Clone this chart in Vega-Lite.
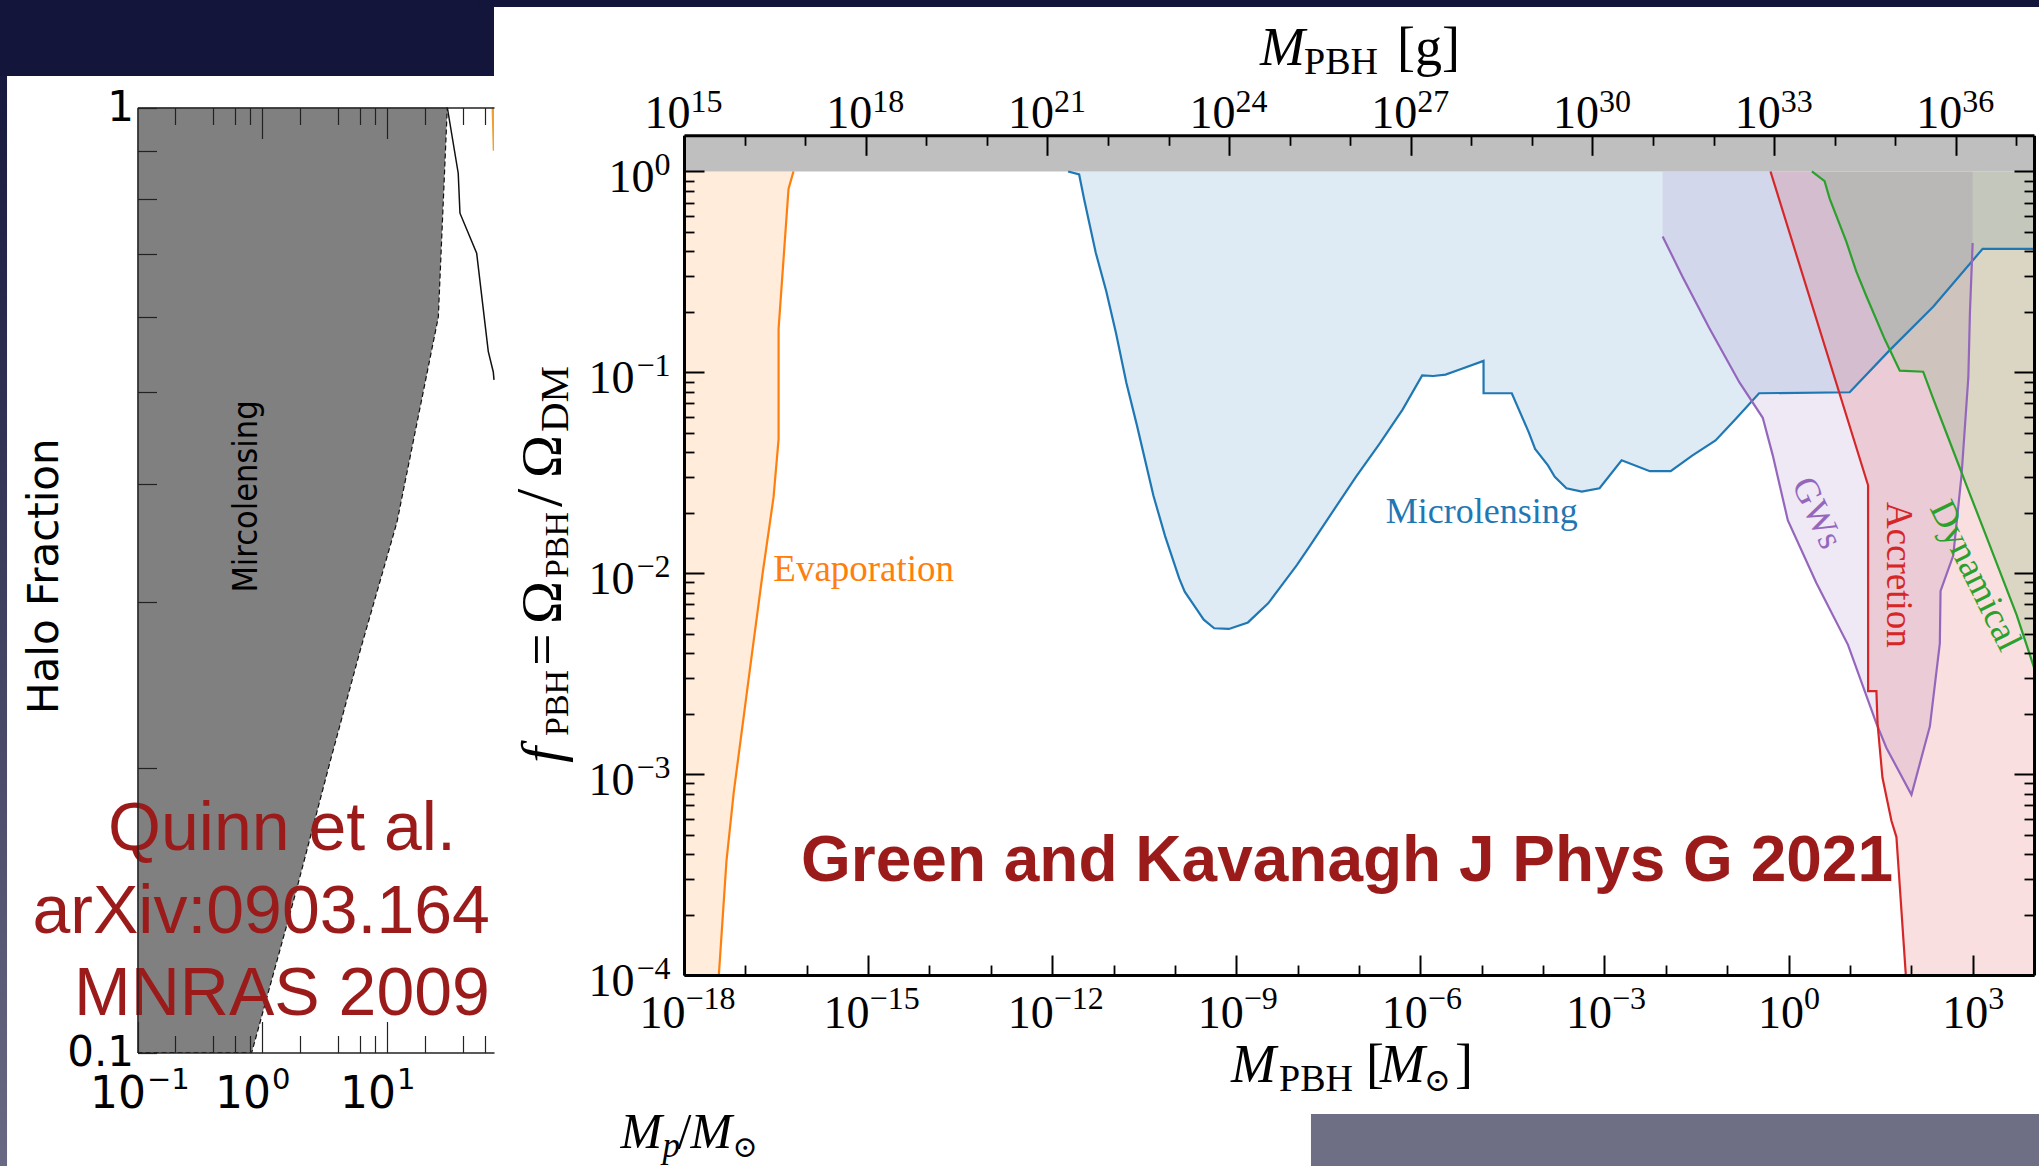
{
"$schema": "https://vega.github.io/schema/vega-lite/v6.json",
"width": 2039, "height": 1166, "autosize": {"type": "none"}, "padding": 0,
"background": "#ffffff",
"config": {"view": {"stroke": null}, "axis": {"grid": false, "labelFlush": false, "labelOverlap": false, "labelBound": false}},
"datasets": {
"evap": [{"M":1e-18,"f":0.0001},{"M":3.7e-18,"f":0.0001},{"M":4.92e-18,"f":0.000369},{"M":6.46e-18,"f":0.000809},{"M":1.205e-17,"f":0.00345},{"M":1.93e-17,"f":0.0102},{"M":2.88e-17,"f":0.0239},{"M":3.48e-17,"f":0.0465},{"M":3.481e-17,"f":0.165},{"M":5.05e-17,"f":0.818},{"M":6.08e-17,"f":1}],
"micro": [{"M":1.82e-12,"f":1},{"M":2.75e-12,"f":0.966},{"M":3.31e-12,"f":0.729},{"M":5.13e-12,"f":0.394},{"M":7.59e-12,"f":0.254},{"M":1.096e-11,"f":0.157},{"M":1.62e-11,"f":0.0885},{"M":2.4e-11,"f":0.0546},{"M":4.47e-11,"f":0.0243},{"M":6.92e-11,"f":0.0153},{"M":1.175e-10,"f":0.00942},{"M":1.445e-10,"f":0.00809},{"M":2.24e-10,"f":0.00664},{"M":2.95e-10,"f":0.00587},{"M":4.37e-10,"f":0.00532},{"M":7.59e-10,"f":0.00528},{"M":1.55e-9,"f":0.00569},{"M":3.31e-9,"f":0.00708},{"M":5.37e-9,"f":0.00863},{"M":9.77e-9,"f":0.011},{"M":1.585e-8,"f":0.0137},{"M":3.09e-8,"f":0.0186},{"M":8.91e-8,"f":0.0302},{"M":2.14e-7,"f":0.0439},{"M":5.13e-7,"f":0.0652},{"M":1.07e-6,"f":0.0966},{"M":1.62e-6,"f":0.0959},{"M":2.57e-6,"f":0.0975},{"M":4.27e-6,"f":0.103},{"M":1.07e-5,"f":0.114},{"M":1.072e-5,"f":0.0787},{"M":3.09e-5,"f":0.0787},{"M":5.89e-5,"f":0.05},{"M":7.41e-5,"f":0.0416},{"M":0.00012,"f":0.0344},{"M":0.000155,"f":0.0302},{"M":0.00024,"f":0.0265},{"M":0.000427,"f":0.0255},{"M":0.000832,"f":0.0265},{"M":0.001905,"f":0.0365},{"M":0.0055,"f":0.0322},{"M":0.012,"f":0.0322},{"M":0.0269,"f":0.0385},{"M":0.0646,"f":0.0458},{"M":0.135,"f":0.0583},{"M":0.331,"f":0.0787},{"M":9.91,"f":0.0796},{"M":44.6,"f":0.129},{"M":227.5,"f":0.212},{"M":1455,"f":0.412},{"M":10000,"f":0.412}],
"gw": [{"M":0.00887,"f":0.475},{"M":0.0188,"f":0.2985},{"M":0.0513,"f":0.1656},{"M":0.1585,"f":0.0891},{"M":0.38,"f":0.0594},{"M":0.5546,"f":0.0385},{"M":0.975,"f":0.0183},{"M":2.83,"f":0.00897},{"M":9.31,"f":0.0044},{"M":27,"f":0.00179},{"M":39.4,"f":0.00135},{"M":100.7,"f":0.000789},{"M":201,"f":0.00173},{"M":292,"f":0.00447},{"M":300,"f":0.00817},{"M":483,"f":0.01225},{"M":661,"f":0.031},{"M":851,"f":0.0946},{"M":904,"f":0.1995},{"M":1000,"f":0.4406}],
"acc": [{"M":0.508,"f":1},{"M":19.77,"f":0.0274},{"M":19.8,"f":0.00259},{"M":27.04,"f":0.00259},{"M":28.2,"f":0.00179},{"M":33.9,"f":0.000962},{"M":47.5,"f":0.000586},{"M":57.3,"f":0.000486},{"M":81.5,"f":0.0001},{"M":10000,"f":0.0001}],
"dyn": [{"M":2.4,"f":1},{"M":3.87,"f":0.895},{"M":4.68,"f":0.733},{"M":8.75,"f":0.447},{"M":12.7,"f":0.318},{"M":18.5,"f":0.24},{"M":37,"f":0.146},{"M":65,"f":0.102},{"M":156.3,"f":0.1007},{"M":227.5,"f":0.074},{"M":425.6,"f":0.045},{"M":794,"f":0.0274},{"M":1493,"f":0.01667},{"M":2793,"f":0.01016},{"M":5224,"f":0.00618},{"M":10000,"f":0.0034}],
"quinnGrey": [{"M":0.1,"f":0.1},{"M":0.82,"f":0.1},{"M":1.88,"f":0.149},{"M":3.47,"f":0.203},{"M":6.03,"f":0.266},{"M":11.9,"f":0.364},{"M":25.5,"f":0.6},{"M":30.1,"f":1}],
"quinnLine": [{"M":30.1,"f":1},{"M":36.8,"f":0.852},{"M":38,"f":0.773},{"M":51.7,"f":0.701},{"M":64,"f":0.552},{"M":70.2,"f":0.525},{"M":71.13,"f":0.515}],
"quinnOrange": [{"M":68,"f":1},{"M":69.5,"f":0.9},{"M":71.13,"f":0.9}]
},
"layer": [
{"data":{"values":[{}]},"mark":{"type":"rect","color":"#14153a"},"encoding":{"x":{"datum":0.001,"type":"quantitative","scale":{"type":"log","domain":[0.1,71.13],"range":[137.5,494],"nice":false},"axis":null},"x2":{"datum":71.13},"y":{"datum":1.0798,"type":"quantitative","scale":{"type":"log","domain":[0.1,1],"range":[1052.5,107.5],"nice":false},"axis":null},"y2":{"datum":3}}},
{"data":{"values":[{}]},"mark":{"type":"rect","color":"#14153a"},"encoding":{"x":{"datum":4.73e-22,"type":"quantitative","scale":{"type":"log","domain":[1e-18,10000],"range":[684,2034],"nice":false},"axis":null},"x2":{"datum":100000},"y":{"datum":6.59,"type":"quantitative","scale":{"type":"log","domain":[0.0001,1.5136],"range":[975,135.3],"nice":false},"axis":null},"y2":{"datum":100}}},
{"data":{"values":[{}]},"mark":{"type":"rect","color":{"gradient":"linear","x1":0,"y1":0,"x2":0,"y2":1,"stops":[{"offset":0,"color":"#17183d"},{"offset":1,"color":"#76768e"}]}},"encoding":{"x":{"datum":0.001,"type":"quantitative","scale":{"type":"log","domain":[0.1,71.13],"range":[137.5,494],"nice":false},"axis":null},"x2":{"datum":0.00904},"y":{"datum":0.05,"type":"quantitative","scale":{"type":"log","domain":[0.1,1],"range":[1052.5,107.5],"nice":false},"axis":null},"y2":{"datum":1.0798}}},
{"data":{"values":[{}]},"mark":{"type":"rect","color":"#6e6e85"},"encoding":{"x":{"datum":1.65e-8,"type":"quantitative","scale":{"type":"log","domain":[1e-18,10000],"range":[684,2034],"nice":false},"axis":null},"x2":{"datum":100000},"y":{"datum":0.000001,"type":"quantitative","scale":{"type":"log","domain":[0.0001,1.5136],"range":[975,135.3],"nice":false},"axis":null},"y2":{"datum":0.0000203}}},
{"data":{"name":"quinnGrey"},"mark":{"type":"area","color":"#808080","opacity":1},"encoding":{"x":{"field":"M","type":"quantitative","scale":{"type":"log","domain":[0.1,71.13],"range":[137.5,494],"nice":false},"axis":null},"y":{"field":"f","type":"quantitative","scale":{"type":"log","domain":[0.1,1],"range":[1052.5,107.5],"nice":false},"axis":null},"y2":{"datum":1}}},
{"data":{"name":"quinnGrey"},"mark":{"type":"line","color":"#111111","strokeWidth":1.2,"strokeDash":[5,3]},"encoding":{"x":{"field":"M","type":"quantitative","scale":{"type":"log","domain":[0.1,71.13],"range":[137.5,494],"nice":false},"axis":null},"y":{"field":"f","type":"quantitative","scale":{"type":"log","domain":[0.1,1],"range":[1052.5,107.5],"nice":false},"axis":null}}},
{"data":{"name":"quinnLine"},"mark":{"type":"line","color":"#111111","strokeWidth":1.5},"encoding":{"x":{"field":"M","type":"quantitative","scale":{"type":"log","domain":[0.1,71.13],"range":[137.5,494],"nice":false},"axis":null},"y":{"field":"f","type":"quantitative","scale":{"type":"log","domain":[0.1,1],"range":[1052.5,107.5],"nice":false},"axis":null}}},
{"data":{"name":"quinnOrange"},"mark":{"type":"area","color":"#f0a030","opacity":1},"encoding":{"x":{"field":"M","type":"quantitative","scale":{"type":"log","domain":[0.1,71.13],"range":[137.5,494],"nice":false},"axis":null},"y":{"field":"f","type":"quantitative","scale":{"type":"log","domain":[0.1,1],"range":[1052.5,107.5],"nice":false},"axis":null},"y2":{"datum":1}}},
{"data":{"values":[{}]},"mark":{"type":"text","text":"Halo Fraction","font":"DejaVu Sans","fontSize":42,"color":"#000000","angle":270,"align":"center","baseline":"middle"},"encoding":{"x":{"datum":0.01836,"type":"quantitative","scale":{"type":"log","domain":[0.1,71.13],"range":[137.5,494],"nice":false},"axis":null},"y":{"datum":0.3192,"type":"quantitative","scale":{"type":"log","domain":[0.1,1],"range":[1052.5,107.5],"nice":false},"axis":null}}},
{"data":{"values":[{}]},"mark":{"type":"text","text":"Mircolensing","font":"DejaVu Sans Condensed, DejaVu Sans","fontSize":34,"color":"#000000","angle":270,"align":"center","baseline":"middle"},"encoding":{"x":{"datum":0.748,"type":"quantitative","scale":{"type":"log","domain":[0.1,71.13],"range":[137.5,494],"nice":false},"axis":null},"y":{"datum":0.3876,"type":"quantitative","scale":{"type":"log","domain":[0.1,1],"range":[1052.5,107.5],"nice":false},"axis":null}}},
{"data":{"values":[{}]},"mark":{"type":"text","text":"Quinn et al.","font":"Liberation Sans","fontSize":68,"color":"#9b1b1b","align":"center","baseline":"alphabetic"},"encoding":{"x":{"datum":1.432,"type":"quantitative","scale":{"type":"log","domain":[0.1,71.13],"range":[137.5,494],"nice":false},"axis":null},"y":{"datum":0.1637,"type":"quantitative","scale":{"type":"log","domain":[0.1,1],"range":[1052.5,107.5],"nice":false},"axis":null}}},
{"data":{"values":[{}]},"mark":{"type":"text","text":"arXiv:0903.164","font":"Liberation Sans","fontSize":68,"color":"#9b1b1b","align":"left","baseline":"alphabetic"},"encoding":{"x":{"datum":0.01445,"type":"quantitative","scale":{"type":"log","domain":[0.1,71.13],"range":[137.5,494],"nice":false},"axis":null},"y":{"datum":0.1338,"type":"quantitative","scale":{"type":"log","domain":[0.1,1],"range":[1052.5,107.5],"nice":false},"axis":null}}},
{"data":{"values":[{}]},"mark":{"type":"text","text":"MNRAS 2009","font":"Liberation Sans","fontSize":68,"color":"#9b1b1b","align":"center","baseline":"alphabetic"},"encoding":{"x":{"datum":1.432,"type":"quantitative","scale":{"type":"log","domain":[0.1,71.13],"range":[137.5,494],"nice":false},"axis":null},"y":{"datum":0.1096,"type":"quantitative","scale":{"type":"log","domain":[0.1,1],"range":[1052.5,107.5],"nice":false},"axis":null}}},
{"data":{"values":[{}]},"mark":{"type":"text","text":"M","font":"Liberation Serif","fontStyle":"italic","fontSize":50,"color":"#000000","align":"left","baseline":"alphabetic"},"encoding":{"x":{"datum":732.8,"type":"quantitative","scale":{"type":"log","domain":[0.1,71.13],"range":[137.5,494],"nice":false},"axis":null},"y":{"datum":0.0792,"type":"quantitative","scale":{"type":"log","domain":[0.1,1],"range":[1052.5,107.5],"nice":false},"axis":null}}},
{"data":{"values":[{}]},"mark":{"type":"text","text":"p","font":"Liberation Serif","fontStyle":"italic","fontSize":35,"color":"#000000","align":"left","baseline":"alphabetic","dx":42,"dy":9},"encoding":{"x":{"datum":732.8,"type":"quantitative","scale":{"type":"log","domain":[0.1,71.13],"range":[137.5,494],"nice":false},"axis":null},"y":{"datum":0.0792,"type":"quantitative","scale":{"type":"log","domain":[0.1,1],"range":[1052.5,107.5],"nice":false},"axis":null}}},
{"data":{"values":[{}]},"mark":{"type":"text","text":"/","font":"Liberation Serif","fontSize":50,"color":"#000000","align":"left","baseline":"alphabetic","dx":57},"encoding":{"x":{"datum":732.8,"type":"quantitative","scale":{"type":"log","domain":[0.1,71.13],"range":[137.5,494],"nice":false},"axis":null},"y":{"datum":0.0792,"type":"quantitative","scale":{"type":"log","domain":[0.1,1],"range":[1052.5,107.5],"nice":false},"axis":null}}},
{"data":{"values":[{}]},"mark":{"type":"text","text":"M","font":"Liberation Serif","fontStyle":"italic","fontSize":50,"color":"#000000","align":"left","baseline":"alphabetic","dx":70},"encoding":{"x":{"datum":732.8,"type":"quantitative","scale":{"type":"log","domain":[0.1,71.13],"range":[137.5,494],"nice":false},"axis":null},"y":{"datum":0.0792,"type":"quantitative","scale":{"type":"log","domain":[0.1,1],"range":[1052.5,107.5],"nice":false},"axis":null}}},
{"data":{"values":[{}]},"mark":{"type":"text","text":"⊙","font":"DejaVu Serif","fontSize":30,"color":"#000000","align":"left","baseline":"alphabetic","dx":112,"dy":9},"encoding":{"x":{"datum":732.8,"type":"quantitative","scale":{"type":"log","domain":[0.1,71.13],"range":[137.5,494],"nice":false},"axis":null},"y":{"datum":0.0792,"type":"quantitative","scale":{"type":"log","domain":[0.1,1],"range":[1052.5,107.5],"nice":false},"axis":null}}},
{"data":{"name":"evap"},"mark":{"type":"area","color":"#ff7f0e","opacity":0.15},"encoding":{"x":{"field":"M","type":"quantitative","scale":{"type":"log","domain":[1e-18,10000],"range":[684,2034],"nice":false},"axis":null},"y":{"field":"f","type":"quantitative","scale":{"type":"log","domain":[0.0001,1.5136],"range":[975,135.3],"nice":false},"axis":null},"y2":{"datum":1}}},
{"data":{"name":"micro"},"mark":{"type":"area","color":"#1f77b4","opacity":0.15},"encoding":{"x":{"field":"M","type":"quantitative","scale":{"type":"log","domain":[1e-18,10000],"range":[684,2034],"nice":false},"axis":null},"y":{"field":"f","type":"quantitative","scale":{"type":"log","domain":[0.0001,1.5136],"range":[975,135.3],"nice":false},"axis":null},"y2":{"datum":1}}},
{"data":{"name":"gw"},"mark":{"type":"area","color":"#9467bd","opacity":0.15},"encoding":{"x":{"field":"M","type":"quantitative","scale":{"type":"log","domain":[1e-18,10000],"range":[684,2034],"nice":false},"axis":null},"y":{"field":"f","type":"quantitative","scale":{"type":"log","domain":[0.0001,1.5136],"range":[975,135.3],"nice":false},"axis":null},"y2":{"datum":1}}},
{"data":{"name":"acc"},"mark":{"type":"area","color":"#d62728","opacity":0.15},"encoding":{"x":{"field":"M","type":"quantitative","scale":{"type":"log","domain":[1e-18,10000],"range":[684,2034],"nice":false},"axis":null},"y":{"field":"f","type":"quantitative","scale":{"type":"log","domain":[0.0001,1.5136],"range":[975,135.3],"nice":false},"axis":null},"y2":{"datum":1}}},
{"data":{"name":"dyn"},"mark":{"type":"area","color":"#2ca02c","opacity":0.15},"encoding":{"x":{"field":"M","type":"quantitative","scale":{"type":"log","domain":[1e-18,10000],"range":[684,2034],"nice":false},"axis":null},"y":{"field":"f","type":"quantitative","scale":{"type":"log","domain":[0.0001,1.5136],"range":[975,135.3],"nice":false},"axis":null},"y2":{"datum":1}}},
{"data":{"values":[{}]},"mark":{"type":"rect","color":"#bfbfbf"},"encoding":{"x":{"datum":1e-18,"type":"quantitative","scale":{"type":"log","domain":[1e-18,10000],"range":[684,2034],"nice":false},"axis":null},"x2":{"datum":10000},"y":{"datum":1,"type":"quantitative","scale":{"type":"log","domain":[0.0001,1.5136],"range":[975,135.3],"nice":false},"axis":null},"y2":{"datum":1.5136}}},
{"data":{"name":"evap"},"mark":{"type":"line","color":"#ff7f0e","strokeWidth":2.2},"encoding":{"x":{"field":"M","type":"quantitative","scale":{"type":"log","domain":[1e-18,10000],"range":[684,2034],"nice":false},"axis":null},"y":{"field":"f","type":"quantitative","scale":{"type":"log","domain":[0.0001,1.5136],"range":[975,135.3],"nice":false},"axis":null}}},
{"data":{"name":"micro"},"mark":{"type":"line","color":"#1f77b4","strokeWidth":2.2},"encoding":{"x":{"field":"M","type":"quantitative","scale":{"type":"log","domain":[1e-18,10000],"range":[684,2034],"nice":false},"axis":null},"y":{"field":"f","type":"quantitative","scale":{"type":"log","domain":[0.0001,1.5136],"range":[975,135.3],"nice":false},"axis":null}}},
{"data":{"name":"gw"},"mark":{"type":"line","color":"#9467bd","strokeWidth":2.2},"encoding":{"x":{"field":"M","type":"quantitative","scale":{"type":"log","domain":[1e-18,10000],"range":[684,2034],"nice":false},"axis":null},"y":{"field":"f","type":"quantitative","scale":{"type":"log","domain":[0.0001,1.5136],"range":[975,135.3],"nice":false},"axis":null}}},
{"data":{"name":"acc"},"mark":{"type":"line","color":"#d62728","strokeWidth":2.2},"encoding":{"x":{"field":"M","type":"quantitative","scale":{"type":"log","domain":[1e-18,10000],"range":[684,2034],"nice":false},"axis":null},"y":{"field":"f","type":"quantitative","scale":{"type":"log","domain":[0.0001,1.5136],"range":[975,135.3],"nice":false},"axis":null}}},
{"data":{"name":"dyn"},"mark":{"type":"line","color":"#2ca02c","strokeWidth":2.2},"encoding":{"x":{"field":"M","type":"quantitative","scale":{"type":"log","domain":[1e-18,10000],"range":[684,2034],"nice":false},"axis":null},"y":{"field":"f","type":"quantitative","scale":{"type":"log","domain":[0.0001,1.5136],"range":[975,135.3],"nice":false},"axis":null}}},
{"data":{"values":[{}]},"mark":{"type":"text","text":"Evaporation","font":"Liberation Serif","fontSize":37,"color":"#ff7f0e","align":"left","baseline":"alphabetic"},"encoding":{"x":{"datum":2.85e-17,"type":"quantitative","scale":{"type":"log","domain":[1e-18,10000],"range":[684,2034],"nice":false},"axis":null},"y":{"datum":0.00912,"type":"quantitative","scale":{"type":"log","domain":[0.0001,1.5136],"range":[975,135.3],"nice":false},"axis":null}}},
{"data":{"values":[{}]},"mark":{"type":"text","text":"Microlensing","font":"Liberation Serif","fontSize":36,"color":"#1f77b4","align":"center","baseline":"alphabetic"},"encoding":{"x":{"datum":0.00001,"type":"quantitative","scale":{"type":"log","domain":[1e-18,10000],"range":[684,2034],"nice":false},"axis":null},"y":{"datum":0.01778,"type":"quantitative","scale":{"type":"log","domain":[0.0001,1.5136],"range":[975,135.3],"nice":false},"axis":null}}},
{"data":{"values":[{}]},"mark":{"type":"text","text":"GWs","font":"Liberation Serif","fontSize":36,"color":"#9467bd","align":"center","baseline":"middle","angle":65},"encoding":{"x":{"datum":2.92,"type":"quantitative","scale":{"type":"log","domain":[1e-18,10000],"range":[684,2034],"nice":false},"axis":null},"y":{"datum":0.01995,"type":"quantitative","scale":{"type":"log","domain":[0.0001,1.5136],"range":[975,135.3],"nice":false},"axis":null}}},
{"data":{"values":[{}]},"mark":{"type":"text","text":"Accretion","font":"Liberation Serif","fontSize":37,"color":"#d62728","align":"center","baseline":"middle","angle":90},"encoding":{"x":{"datum":59.8,"type":"quantitative","scale":{"type":"log","domain":[1e-18,10000],"range":[684,2034],"nice":false},"axis":null},"y":{"datum":0.00982,"type":"quantitative","scale":{"type":"log","domain":[0.0001,1.5136],"range":[975,135.3],"nice":false},"axis":null}}},
{"data":{"values":[{}]},"mark":{"type":"text","text":"Dynamical","font":"Liberation Serif","fontSize":37,"color":"#2ca02c","align":"center","baseline":"middle","angle":63.7},"encoding":{"x":{"datum":1096,"type":"quantitative","scale":{"type":"log","domain":[1e-18,10000],"range":[684,2034],"nice":false},"axis":null},"y":{"datum":0.0097,"type":"quantitative","scale":{"type":"log","domain":[0.0001,1.5136],"range":[975,135.3],"nice":false},"axis":null}}},
{"data":{"values":[{}]},"mark":{"type":"text","text":"Green and Kavanagh J Phys G 2021","font":"Liberation Sans","fontWeight":"bold","fontSize":64,"color":"#9b1b1b","align":"center","baseline":"alphabetic"},"encoding":{"x":{"datum":6.38e-8,"type":"quantitative","scale":{"type":"log","domain":[1e-18,10000],"range":[684,2034],"nice":false},"axis":null},"y":{"datum":0.0002954,"type":"quantitative","scale":{"type":"log","domain":[0.0001,1.5136],"range":[975,135.3],"nice":false},"axis":null}}},
{"data":{"values":[{}]},"mark":{"type":"text","text":"M","font":"Liberation Serif","fontStyle":"italic","fontSize":54,"color":"#000000","align":"left","baseline":"alphabetic"},"encoding":{"x":{"datum":2.44e-9,"type":"quantitative","scale":{"type":"log","domain":[1e-18,10000],"range":[684,2034],"nice":false},"axis":null},"y":{"datum":3.39,"type":"quantitative","scale":{"type":"log","domain":[0.0001,1.5136],"range":[975,135.3],"nice":false},"axis":null}}},
{"data":{"values":[{}]},"mark":{"type":"text","text":"PBH","font":"Liberation Serif","fontSize":38,"color":"#000000","align":"left","baseline":"alphabetic","dx":44,"dy":9},"encoding":{"x":{"datum":2.44e-9,"type":"quantitative","scale":{"type":"log","domain":[1e-18,10000],"range":[684,2034],"nice":false},"axis":null},"y":{"datum":3.39,"type":"quantitative","scale":{"type":"log","domain":[0.0001,1.5136],"range":[975,135.3],"nice":false},"axis":null}}},
{"data":{"values":[{}]},"mark":{"type":"text","text":"[g]","font":"Liberation Serif","fontSize":54,"color":"#000000","align":"left","baseline":"alphabetic","dx":137},"encoding":{"x":{"datum":2.44e-9,"type":"quantitative","scale":{"type":"log","domain":[1e-18,10000],"range":[684,2034],"nice":false},"axis":null},"y":{"datum":3.39,"type":"quantitative","scale":{"type":"log","domain":[0.0001,1.5136],"range":[975,135.3],"nice":false},"axis":null}}},
{"data":{"values":[{}]},"mark":{"type":"text","text":"M","font":"Liberation Serif","fontStyle":"italic","fontSize":54,"color":"#000000","align":"left","baseline":"alphabetic"},"encoding":{"x":{"datum":8.22e-10,"type":"quantitative","scale":{"type":"log","domain":[1e-18,10000],"range":[684,2034],"nice":false},"axis":null},"y":{"datum":0.00002933,"type":"quantitative","scale":{"type":"log","domain":[0.0001,1.5136],"range":[975,135.3],"nice":false},"axis":null}}},
{"data":{"values":[{}]},"mark":{"type":"text","text":"PBH","font":"Liberation Serif","fontSize":38,"color":"#000000","align":"left","baseline":"alphabetic","dx":48,"dy":9},"encoding":{"x":{"datum":8.22e-10,"type":"quantitative","scale":{"type":"log","domain":[1e-18,10000],"range":[684,2034],"nice":false},"axis":null},"y":{"datum":0.00002933,"type":"quantitative","scale":{"type":"log","domain":[0.0001,1.5136],"range":[975,135.3],"nice":false},"axis":null}}},
{"data":{"values":[{}]},"mark":{"type":"text","text":"[","font":"Liberation Serif","fontSize":54,"color":"#000000","align":"left","baseline":"alphabetic","dx":135},"encoding":{"x":{"datum":8.22e-10,"type":"quantitative","scale":{"type":"log","domain":[1e-18,10000],"range":[684,2034],"nice":false},"axis":null},"y":{"datum":0.00002933,"type":"quantitative","scale":{"type":"log","domain":[0.0001,1.5136],"range":[975,135.3],"nice":false},"axis":null}}},
{"data":{"values":[{}]},"mark":{"type":"text","text":"M","font":"Liberation Serif","fontStyle":"italic","fontSize":54,"color":"#000000","align":"left","baseline":"alphabetic","dx":149},"encoding":{"x":{"datum":8.22e-10,"type":"quantitative","scale":{"type":"log","domain":[1e-18,10000],"range":[684,2034],"nice":false},"axis":null},"y":{"datum":0.00002933,"type":"quantitative","scale":{"type":"log","domain":[0.0001,1.5136],"range":[975,135.3],"nice":false},"axis":null}}},
{"data":{"values":[{}]},"mark":{"type":"text","text":"⊙","font":"DejaVu Serif","fontSize":32,"color":"#000000","align":"left","baseline":"alphabetic","dx":193,"dy":9},"encoding":{"x":{"datum":8.22e-10,"type":"quantitative","scale":{"type":"log","domain":[1e-18,10000],"range":[684,2034],"nice":false},"axis":null},"y":{"datum":0.00002933,"type":"quantitative","scale":{"type":"log","domain":[0.0001,1.5136],"range":[975,135.3],"nice":false},"axis":null}}},
{"data":{"values":[{}]},"mark":{"type":"text","text":"]","font":"Liberation Serif","fontSize":54,"color":"#000000","align":"left","baseline":"alphabetic","dx":224},"encoding":{"x":{"datum":8.22e-10,"type":"quantitative","scale":{"type":"log","domain":[1e-18,10000],"range":[684,2034],"nice":false},"axis":null},"y":{"datum":0.00002933,"type":"quantitative","scale":{"type":"log","domain":[0.0001,1.5136],"range":[975,135.3],"nice":false},"axis":null}}},
{"data":{"values":[{}]},"mark":{"type":"text","text":"f","font":"Liberation Serif","fontStyle":"italic","fontSize":58,"color":"#000000","align":"left","baseline":"alphabetic","angle":270},"encoding":{"x":{"datum":9.9e-21,"type":"quantitative","scale":{"type":"log","domain":[1e-18,10000],"range":[684,2034],"nice":false},"axis":null},"y":{"datum":0.001136,"type":"quantitative","scale":{"type":"log","domain":[0.0001,1.5136],"range":[975,135.3],"nice":false},"axis":null}}},
{"data":{"values":[{}]},"mark":{"type":"text","text":"PBH","font":"Liberation Serif","fontSize":34,"color":"#000000","align":"left","baseline":"alphabetic","angle":270,"dx":27,"dy":7},"encoding":{"x":{"datum":9.9e-21,"type":"quantitative","scale":{"type":"log","domain":[1e-18,10000],"range":[684,2034],"nice":false},"axis":null},"y":{"datum":0.001136,"type":"quantitative","scale":{"type":"log","domain":[0.0001,1.5136],"range":[975,135.3],"nice":false},"axis":null}}},
{"data":{"values":[{}]},"mark":{"type":"text","text":"=","font":"Liberation Serif","fontSize":58,"color":"#000000","align":"left","baseline":"alphabetic","angle":270,"dx":97},"encoding":{"x":{"datum":9.9e-21,"type":"quantitative","scale":{"type":"log","domain":[1e-18,10000],"range":[684,2034],"nice":false},"axis":null},"y":{"datum":0.001136,"type":"quantitative","scale":{"type":"log","domain":[0.0001,1.5136],"range":[975,135.3],"nice":false},"axis":null}}},
{"data":{"values":[{}]},"mark":{"type":"text","text":"Ω","font":"Liberation Serif","fontSize":58,"color":"#000000","align":"left","baseline":"alphabetic","angle":270,"dx":139},"encoding":{"x":{"datum":9.9e-21,"type":"quantitative","scale":{"type":"log","domain":[1e-18,10000],"range":[684,2034],"nice":false},"axis":null},"y":{"datum":0.001136,"type":"quantitative","scale":{"type":"log","domain":[0.0001,1.5136],"range":[975,135.3],"nice":false},"axis":null}}},
{"data":{"values":[{}]},"mark":{"type":"text","text":"PBH","font":"Liberation Serif","fontSize":34,"color":"#000000","align":"left","baseline":"alphabetic","angle":270,"dx":185,"dy":7},"encoding":{"x":{"datum":9.9e-21,"type":"quantitative","scale":{"type":"log","domain":[1e-18,10000],"range":[684,2034],"nice":false},"axis":null},"y":{"datum":0.001136,"type":"quantitative","scale":{"type":"log","domain":[0.0001,1.5136],"range":[975,135.3],"nice":false},"axis":null}}},
{"data":{"values":[{}]},"mark":{"type":"text","text":"/","font":"Liberation Serif","fontSize":66,"color":"#000000","align":"left","baseline":"alphabetic","angle":270,"dx":256},"encoding":{"x":{"datum":9.9e-21,"type":"quantitative","scale":{"type":"log","domain":[1e-18,10000],"range":[684,2034],"nice":false},"axis":null},"y":{"datum":0.001136,"type":"quantitative","scale":{"type":"log","domain":[0.0001,1.5136],"range":[975,135.3],"nice":false},"axis":null}}},
{"data":{"values":[{}]},"mark":{"type":"text","text":"Ω","font":"Liberation Serif","fontSize":58,"color":"#000000","align":"left","baseline":"alphabetic","angle":270,"dx":285},"encoding":{"x":{"datum":9.9e-21,"type":"quantitative","scale":{"type":"log","domain":[1e-18,10000],"range":[684,2034],"nice":false},"axis":null},"y":{"datum":0.001136,"type":"quantitative","scale":{"type":"log","domain":[0.0001,1.5136],"range":[975,135.3],"nice":false},"axis":null}}},
{"data":{"values":[{}]},"mark":{"type":"text","text":"DM","font":"Liberation Serif","fontSize":41,"color":"#000000","align":"left","baseline":"alphabetic","angle":270,"dx":331,"dy":7},"encoding":{"x":{"datum":9.9e-21,"type":"quantitative","scale":{"type":"log","domain":[1e-18,10000],"range":[684,2034],"nice":false},"axis":null},"y":{"datum":0.001136,"type":"quantitative","scale":{"type":"log","domain":[0.0001,1.5136],"range":[975,135.3],"nice":false},"axis":null}}},
{"data":{"values":[{}]},"mark":{"type":"point","opacity":0},"encoding":{"x":{"datum":0.00001,"type":"quantitative","scale":{"type":"log","domain":[1e-18,10000],"range":[684,2034],"nice":false},"axis":{"orient":"bottom","offset":-191,"values":[1e-18,1e-15,1e-12,1e-9,1e-6,0.001,1,1000],"tickSize":-20,"tickWidth":2,"tickColor":"#000000","domainColor":"#000000","domainWidth":3,"labels":false,"title":null,"zindex":1}},"y":{"datum":0.01,"type":"quantitative","scale":{"type":"log","domain":[0.0001,1.5136],"range":[975,135.3],"nice":false},"axis":{"orient":"left","offset":-684,"values":[0.0001,0.001,0.01,0.1,1],"tickSize":-20,"tickWidth":2,"tickColor":"#000000","domainColor":"#000000","domainWidth":3,"labels":false,"title":null,"zindex":1}}}},
{"data":{"values":[{}]},"mark":{"type":"point","opacity":0},"encoding":{"x":{"datum":0.00001,"type":"quantitative","scale":{"type":"log","domain":[1e-18,10000],"range":[684,2034],"nice":false},"axis":{"orient":"bottom","offset":-191,"values":[1e-17,1e-16,1e-14,1e-13,1e-11,1e-10,1e-8,1e-7,1e-5,0.0001,0.01,0.1,10,100],"tickSize":-10,"tickWidth":1.8,"tickColor":"#000000","domain":false,"labels":false,"title":null,"zindex":1}},"y":{"datum":0.01,"type":"quantitative","scale":{"type":"log","domain":[0.0001,1.5136],"range":[975,135.3],"nice":false},"axis":{"orient":"left","offset":-684,"values":[0.0002,0.0003,0.0004,0.0005,0.0006,0.0007,0.0008,0.0009,0.002,0.003,0.004,0.005,0.006,0.007,0.008,0.009,0.02,0.03,0.04,0.05,0.06,0.07,0.08,0.09,0.2,0.3,0.4,0.5,0.6,0.7,0.8,0.9],"tickSize":-10,"tickWidth":1.8,"tickColor":"#000000","domain":false,"labels":false,"title":null,"zindex":1}}}},
{"data":{"values":[{}]},"mark":{"type":"point","opacity":0},"encoding":{"x":{"datum":1e25,"type":"quantitative","scale":{"type":"log","domain":[1e15,1.95e37],"range":[684,2034],"nice":false},"axis":{"orient":"top","offset":-135.3,"values":[1e15,1e18,1e21,1e24,1e27,1e30,1e33,1e36],"tickSize":-20,"tickWidth":2,"tickColor":"#000000","domainColor":"#000000","domainWidth":3,"labels":false,"title":null,"zindex":1}},"y":{"datum":0.01,"type":"quantitative","scale":{"type":"log","domain":[0.0001,1.5136],"range":[975,135.3],"nice":false},"axis":{"orient":"right","offset":-5,"values":[0.0001,0.001,0.01,0.1,1],"tickSize":-20,"tickWidth":2,"tickColor":"#000000","domainColor":"#000000","domainWidth":3,"labels":false,"title":null,"zindex":1}}}},
{"data":{"values":[{}]},"mark":{"type":"point","opacity":0},"encoding":{"x":{"datum":1e25,"type":"quantitative","scale":{"type":"log","domain":[1e15,1.95e37],"range":[684,2034],"nice":false},"axis":{"orient":"top","offset":-135.3,"values":[1e16,1e17,1e19,1e20,1e22,1e23,1e25,1e26,1e28,1e29,1e31,1e32,1e34,1e35,1e37],"tickSize":-10,"tickWidth":1.8,"tickColor":"#000000","domain":false,"labels":false,"title":null,"zindex":1}},"y":{"datum":0.01,"type":"quantitative","scale":{"type":"log","domain":[0.0001,1.5136],"range":[975,135.3],"nice":false},"axis":{"orient":"right","offset":-5,"values":[0.0002,0.0003,0.0004,0.0005,0.0006,0.0007,0.0008,0.0009,0.002,0.003,0.004,0.005,0.006,0.007,0.008,0.009,0.02,0.03,0.04,0.05,0.06,0.07,0.08,0.09,0.2,0.3,0.4,0.5,0.6,0.7,0.8,0.9],"tickSize":-10,"tickWidth":1.8,"tickColor":"#000000","domain":false,"labels":false,"title":null,"zindex":1}}}},
{"data":{"values":[{}]},"mark":{"type":"point","opacity":0},"encoding":{"x":{"datum":0.00001,"type":"quantitative","scale":{"type":"log","domain":[1e-18,10000],"range":[684,2034],"nice":false},"axis":{"orient":"bottom","offset":-191,"values":[1e-18,1e-15,1e-12],"ticks":false,"tickSize":0,"domain":false,"labelExpr":"'10'","labelAlign":"right","labelBaseline":"alphabetic","labelOffset":1,"labelPadding":52,"labelFont":"Liberation Serif","labelFontSize":46,"labelColor":"#000000","title":null,"zindex":1}},"y":{"datum":0.01,"type":"quantitative","scale":{"type":"log","domain":[0.0001,1.5136],"range":[975,135.3],"nice":false},"axis":{"orient":"left","offset":-684,"values":[1],"ticks":false,"tickSize":0,"domain":false,"labelExpr":"'10'","labelAlign":"right","labelBaseline":"alphabetic","labelOffset":20,"labelPadding":30,"labelFont":"Liberation Serif","labelFontSize":46,"labelColor":"#000000","title":null,"zindex":1}}}},
{"data":{"values":[{}]},"mark":{"type":"point","opacity":0},"encoding":{"x":{"datum":0.00001,"type":"quantitative","scale":{"type":"log","domain":[1e-18,10000],"range":[684,2034],"nice":false},"axis":{"orient":"bottom","offset":-191,"values":[1e-9,1e-6,0.001],"ticks":false,"tickSize":0,"domain":false,"labelExpr":"'10'","labelAlign":"right","labelBaseline":"alphabetic","labelOffset":7,"labelPadding":52,"labelFont":"Liberation Serif","labelFontSize":46,"labelColor":"#000000","title":null,"zindex":1}},"y":{"datum":0.01,"type":"quantitative","scale":{"type":"log","domain":[0.0001,1.5136],"range":[975,135.3],"nice":false},"axis":{"orient":"left","offset":-684,"values":[0.0001,0.001,0.01,0.1],"ticks":false,"tickSize":0,"domain":false,"labelExpr":"'10'","labelAlign":"right","labelBaseline":"alphabetic","labelOffset":20,"labelPadding":50,"labelFont":"Liberation Serif","labelFontSize":46,"labelColor":"#000000","title":null,"zindex":1}}}},
{"data":{"values":[{}]},"mark":{"type":"point","opacity":0},"encoding":{"x":{"datum":0.00001,"type":"quantitative","scale":{"type":"log","domain":[1e-18,10000],"range":[684,2034],"nice":false},"axis":{"orient":"bottom","offset":-191,"values":[1,1000],"ticks":false,"tickSize":0,"domain":false,"labelExpr":"'10'","labelAlign":"right","labelBaseline":"alphabetic","labelOffset":15,"labelPadding":52,"labelFont":"Liberation Serif","labelFontSize":46,"labelColor":"#000000","title":null,"zindex":1}},"y":{"datum":0.01,"type":"quantitative","scale":{"type":"log","domain":[0.0001,1.5136],"range":[975,135.3],"nice":false},"axis":{"orient":"left","offset":-684,"values":[0.0001,0.001,0.01,0.1,1],"ticks":false,"tickSize":0,"domain":false,"labelExpr":"(round(log(datum.value)/LN10) < 0 ? '−' : '') + abs(round(log(datum.value)/LN10))","labelAlign":"right","labelBaseline":"alphabetic","labelOffset":3,"labelPadding":14,"labelFont":"Liberation Serif","labelFontSize":32,"labelColor":"#000000","title":null,"zindex":1}}}},
{"data":{"values":[{}]},"mark":{"type":"point","opacity":0},"encoding":{"x":{"datum":0.00001,"type":"quantitative","scale":{"type":"log","domain":[1e-18,10000],"range":[684,2034],"nice":false},"axis":{"orient":"bottom","offset":-191,"values":[1e-18,1e-15,1e-12],"ticks":false,"tickSize":0,"domain":false,"labelExpr":"(round(log(datum.value)/LN10) < 0 ? '−' : '') + abs(round(log(datum.value)/LN10))","labelAlign":"left","labelBaseline":"alphabetic","labelOffset":1,"labelPadding":33,"labelFont":"Liberation Serif","labelFontSize":32,"labelColor":"#000000","title":null,"zindex":1}},"y":{"datum":0.01,"type":"quantitative","scale":{"type":"log","domain":[0.0001,1.5136],"range":[975,135.3],"nice":false},"axis":null}}},
{"data":{"values":[{}]},"mark":{"type":"point","opacity":0},"encoding":{"x":{"datum":0.00001,"type":"quantitative","scale":{"type":"log","domain":[1e-18,10000],"range":[684,2034],"nice":false},"axis":{"orient":"bottom","offset":-191,"values":[1e-9,1e-6,0.001],"ticks":false,"tickSize":0,"domain":false,"labelExpr":"(round(log(datum.value)/LN10) < 0 ? '−' : '') + abs(round(log(datum.value)/LN10))","labelAlign":"left","labelBaseline":"alphabetic","labelOffset":7,"labelPadding":33,"labelFont":"Liberation Serif","labelFontSize":32,"labelColor":"#000000","title":null,"zindex":1}},"y":{"datum":0.01,"type":"quantitative","scale":{"type":"log","domain":[0.0001,1.5136],"range":[975,135.3],"nice":false},"axis":null}}},
{"data":{"values":[{}]},"mark":{"type":"point","opacity":0},"encoding":{"x":{"datum":0.00001,"type":"quantitative","scale":{"type":"log","domain":[1e-18,10000],"range":[684,2034],"nice":false},"axis":{"orient":"bottom","offset":-191,"values":[1,1000],"ticks":false,"tickSize":0,"domain":false,"labelExpr":"(round(log(datum.value)/LN10) < 0 ? '−' : '') + abs(round(log(datum.value)/LN10))","labelAlign":"left","labelBaseline":"alphabetic","labelOffset":15,"labelPadding":33,"labelFont":"Liberation Serif","labelFontSize":32,"labelColor":"#000000","title":null,"zindex":1}},"y":{"datum":0.01,"type":"quantitative","scale":{"type":"log","domain":[0.0001,1.5136],"range":[975,135.3],"nice":false},"axis":null}}},
{"data":{"values":[{}]},"mark":{"type":"point","opacity":0},"encoding":{"x":{"datum":1e25,"type":"quantitative","scale":{"type":"log","domain":[1e15,1.95e37],"range":[684,2034],"nice":false},"axis":{"orient":"top","offset":-135.3,"values":[1e15,1e18,1e21,1e24,1e27,1e30,1e33,1e36],"ticks":false,"tickSize":0,"domain":false,"labelExpr":"'10'","labelAlign":"right","labelBaseline":"alphabetic","labelOffset":6,"labelPadding":8,"labelFont":"Liberation Serif","labelFontSize":46,"labelColor":"#000000","title":null,"zindex":1}},"y":{"datum":0.01,"type":"quantitative","scale":{"type":"log","domain":[0.0001,1.5136],"range":[975,135.3],"nice":false},"axis":null}}},
{"data":{"values":[{}]},"mark":{"type":"point","opacity":0},"encoding":{"x":{"datum":1e25,"type":"quantitative","scale":{"type":"log","domain":[1e15,1.95e37],"range":[684,2034],"nice":false},"axis":{"orient":"top","offset":-135.3,"values":[1e15,1e18,1e21,1e24,1e27,1e30,1e33,1e36],"ticks":false,"tickSize":0,"domain":false,"labelExpr":"'' + round(log(datum.value)/LN10)","labelAlign":"left","labelBaseline":"alphabetic","labelOffset":6,"labelPadding":24,"labelFont":"Liberation Serif","labelFontSize":32,"labelColor":"#000000","title":null,"zindex":1}},"y":{"datum":0.01,"type":"quantitative","scale":{"type":"log","domain":[0.0001,1.5136],"range":[975,135.3],"nice":false},"axis":null}}},
{"data":{"values":[{}]},"mark":{"type":"point","opacity":0},"encoding":{"x":{"datum":1,"type":"quantitative","scale":{"type":"log","domain":[0.1,71.13],"range":[137.5,494],"nice":false},"axis":{"orient":"bottom","offset":-113.5,"values":[0.1,1,10],"ticks":false,"tickSize":0,"domain":false,"labelExpr":"'10'","labelAlign":"right","labelBaseline":"alphabetic","labelOffset":8,"labelPadding":55,"labelFont":"DejaVu Sans","labelFontSize":44,"labelColor":"#000000","title":null,"zindex":1}},"y":{"datum":0.5,"type":"quantitative","scale":{"type":"log","domain":[0.1,1],"range":[1052.5,107.5],"nice":false},"axis":null}}},
{"data":{"values":[{}]},"mark":{"type":"point","opacity":0},"encoding":{"x":{"datum":1,"type":"quantitative","scale":{"type":"log","domain":[0.1,71.13],"range":[137.5,494],"nice":false},"axis":{"orient":"bottom","offset":-113.5,"values":[0.1,1,10],"ticks":false,"tickSize":0,"domain":false,"labelExpr":"(round(log(datum.value)/LN10) < 0 ? '−' : '') + abs(round(log(datum.value)/LN10))","labelAlign":"left","labelBaseline":"alphabetic","labelOffset":9,"labelPadding":36,"labelFont":"DejaVu Sans","labelFontSize":29,"labelColor":"#000000","title":null,"zindex":1}},"y":{"datum":0.5,"type":"quantitative","scale":{"type":"log","domain":[0.1,1],"range":[1052.5,107.5],"nice":false},"axis":null}}},
{"data":{"values":[{}]},"mark":{"type":"point","opacity":0},"encoding":{"x":{"datum":1,"type":"quantitative","scale":{"type":"log","domain":[0.1,71.13],"range":[137.5,494],"nice":false},"axis":{"orient":"bottom","offset":-113.5,"values":[0.1,1,10],"tickSize":-31,"tickWidth":1.2,"tickColor":"#222222","domainColor":"#222222","domainWidth":1.5,"labels":false,"title":null,"zindex":1}},"y":{"datum":0.5,"type":"quantitative","scale":{"type":"log","domain":[0.1,1],"range":[1052.5,107.5],"nice":false},"axis":{"orient":"left","offset":-137.5,"values":[0.1,1],"tickSize":-19,"tickWidth":1.2,"tickColor":"#222222","domainColor":"#222222","domainWidth":1.5,"format":"~g","labelFont":"DejaVu Sans","labelFontSize":42,"labelColor":"#000000","labelPadding":23,"title":null,"zindex":1}}}},
{"data":{"values":[{}]},"mark":{"type":"point","opacity":0},"encoding":{"x":{"datum":1,"type":"quantitative","scale":{"type":"log","domain":[0.1,71.13],"range":[137.5,494],"nice":false},"axis":{"orient":"bottom","offset":-113.5,"values":[0.2,0.4,0.6,0.8,2,4,6,8,20,40,60],"tickSize":-17,"tickWidth":1.2,"tickColor":"#222222","domain":false,"labels":false,"title":null,"zindex":1}},"y":{"datum":0.5,"type":"quantitative","scale":{"type":"log","domain":[0.1,1],"range":[1052.5,107.5],"nice":false},"axis":{"orient":"left","offset":-137.5,"values":[0.2,0.3,0.4,0.5,0.6,0.7,0.8,0.9],"tickSize":-19,"tickWidth":1.2,"tickColor":"#222222","domain":false,"labels":false,"title":null,"zindex":1}}}},
{"data":{"values":[{}]},"mark":{"type":"point","opacity":0},"encoding":{"x":{"datum":1,"type":"quantitative","scale":{"type":"log","domain":[0.1,71.13],"range":[137.5,494],"nice":false},"axis":{"orient":"top","offset":-107.5,"values":[1,10],"tickSize":-31,"tickWidth":1.2,"tickColor":"#222222","domainColor":"#222222","domainWidth":1.5,"labels":false,"title":null,"zindex":1}},"y":{"datum":0.5,"type":"quantitative","scale":{"type":"log","domain":[0.1,1],"range":[1052.5,107.5],"nice":false},"axis":null}}},
{"data":{"values":[{}]},"mark":{"type":"point","opacity":0},"encoding":{"x":{"datum":1,"type":"quantitative","scale":{"type":"log","domain":[0.1,71.13],"range":[137.5,494],"nice":false},"axis":{"orient":"top","offset":-107.5,"values":[0.2,0.4,0.6,0.8,2,4,6,8,20,40,60],"tickSize":-17,"tickWidth":1.2,"tickColor":"#222222","domain":false,"labels":false,"title":null,"zindex":1}},"y":{"datum":0.5,"type":"quantitative","scale":{"type":"log","domain":[0.1,1],"range":[1052.5,107.5],"nice":false},"axis":null}}}
],
"resolve": {"scale": {"x": "independent", "y": "independent"}, "axis": {"x": "independent", "y": "independent"}}
}
